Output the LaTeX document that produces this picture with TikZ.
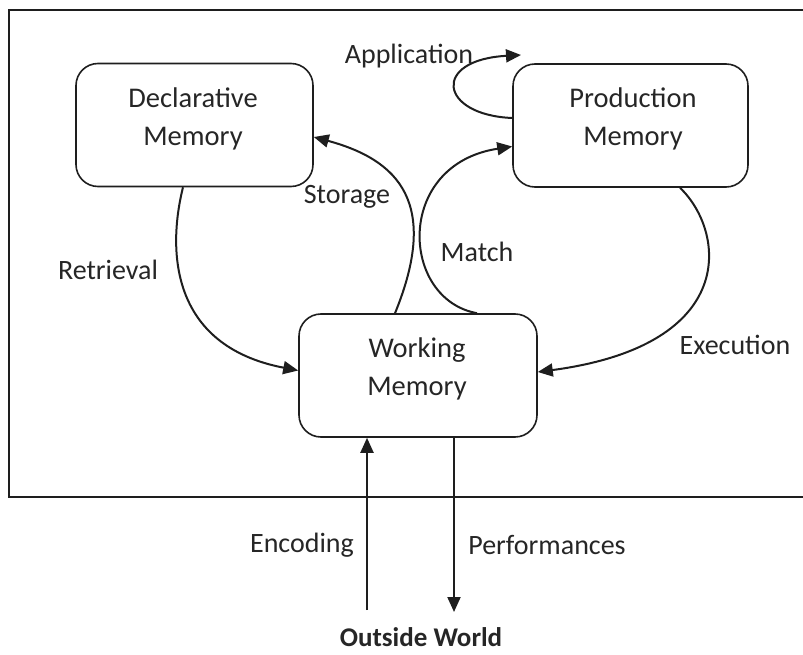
\documentclass[tikz,border=0pt]{standalone}
\usepackage{fontspec}
\setmainfont{Carlito}
\usetikzlibrary{arrows.meta,calc}

\definecolor{ink}{HTML}{1E1E1E}
\definecolor{txt}{HTML}{262626}

\tikzset{
  membox/.style={draw=ink, line width=1.6pt, rounded corners=22pt,
    minimum width=237pt, minimum height=123pt, inner sep=0pt},
  memtext/.style={text=txt, align=center, font=\fontsize{28.5}{38}\selectfont},
  lbl/.style={text=txt, font=\fontsize{28}{34}\selectfont, inner sep=0pt},
  flow/.style={draw=ink, line width=2pt,
    -{Triangle[length=15pt,width=13pt]}},
  frame/.style={draw=ink, line width=1.6pt}
}

\begin{document}
\begin{tikzpicture}[x=1pt,y=-1pt]
  \useasboundingbox (0,0) rectangle (803,655);

  % cognitive system boundary (open on the right)
  \draw[frame] (804,10) -- (9,10) -- (9,497) -- (804,497);

  % memory stores
  \node[membox] (dm) at (194.5,125) {};
  \node[membox, minimum width=235pt] (pm) at (630.5,125.5) {};
  \node[membox, minimum width=238pt] (wm) at (418,375.5) {};

  \node[memtext] (dmt) at (193,119) {Declarative\\Memory};
  \node[memtext] (pmt) at (633,119) {Production\\Memory};
  \node[memtext] (wmt) at (417,369) {Working\\Memory};

  % retrieval: declarative -> working
  \draw[flow] ([xshift=-11.5pt]dm.south)
    .. controls +(-15,60) and +(-130,-25) .. ([yshift=5pt]wm.west);

  % storage: working -> declarative
  \draw[flow] ([xshift=-23pt]wm.north)
    .. controls +(45,-110) and +(85,23) .. ([yshift=-12pt]dm.east);

  % match: working -> production
  \draw[flow] ([xshift=59pt]wm.north)
    .. controls +(-77,-14) and +(-118,18) .. ([yshift=-21pt]pm.west);

  % execution: production -> working
  \draw[flow] ([xshift=49.5pt]pm.south)
    .. controls +(45,43) and +(203,-27) .. ([yshift=3.5pt]wm.east);

  % application loop on production memory
  \coordinate (apptip) at (521,55);
  \draw[flow] ([yshift=7.5pt]pm.west)
    .. controls +(-73,-3) and +(-90,5) .. (apptip);

  % exchange with the outside world
  \coordinate (encsrc) at (367,610);
  \coordinate (perfdst) at (454,612);
  \draw[flow] (encsrc) -- (encsrc |- wm.south);
  \draw[flow] (perfdst |- wm.south) -- (perfdst);

  % labels
  \node[lbl] (lret) at (108,270) {Retrieval};
  \node[lbl] (lsto) at (347,197) {Storage};
  \node[lbl] (lmat) at (477,252) {Match};
  \node[lbl] (lexe) at (735,345) {Execution};
  \node[lbl] (lapp) at (409,56) {Application};
  \node[lbl] (lenc) at (302,545) {Encoding};
  \node[lbl] (lper) at (547,545) {Performances};
  \node[lbl, font=\fontsize{27}{32}\selectfont\bfseries] (lout) at (421,637) {Outside World};
\end{tikzpicture}
\end{document}
